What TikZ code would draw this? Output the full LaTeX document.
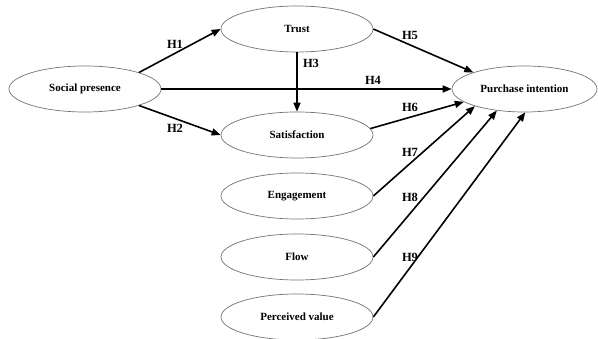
\documentclass[tikz,border=0pt]{standalone}
\usepackage{fontspec}
\setmainfont{Liberation Serif}
\usetikzlibrary{arrows.meta,shapes.geometric}
\begin{document}
\begin{tikzpicture}[x=1pt,y=-1pt,
  var/.style={draw=black!55, line width=0.7pt, ellipse, minimum width=152pt, minimum height=46pt, inner sep=0pt, font=\bfseries\fontsize{11}{13}\selectfont},
  rel/.style={line width=1.6pt, -{Triangle[length=9pt,width=7pt]}},
  lab/.style={font=\bfseries\fontsize{12.5}{14}\selectfont, inner sep=0pt}]
\useasboundingbox (0,0) rectangle (598,339);
\node[var] (sp) at (85,89) {Social presence};
\node[var] (tr) at (297,29) {Trust};
\node[var] (sa) at (297,135) {Satisfaction};
\node[var, minimum width=145pt] (pi) at (524.5,89) {Purchase intention};
\node[var] (en) at (297,196) {Engagement};
\node[var] (fl) at (297,257) {Flow};
\node[var] (pv) at (297,317) {Perceived value};
\draw[rel] (sp.17) -- (tr.west);
\draw[rel] (sp.-17) -- (sa.west);
\draw[rel] (tr.south) -- (sa.north);
\draw[rel] (sp.east) -- (pi.west);
\draw[rel] (tr.east) -- (pi.162);
\draw[rel] (sa.5) -- (pi.192);
\draw[rel] (en.east) -- (pi.199);
\draw[rel] (fl.east) -- (pi.218);
\draw[rel] (pv.east) -- (pi.272);
\node[lab] (h1) at (175,44) {H1};
\node[lab] (h2) at (175,128) {H2};
\node[lab] (h3) at (311,63) {H3};
\node[lab] (h4) at (373,80) {H4};
\node[lab] (h5) at (410,35) {H5};
\node[lab] (h6) at (410,107) {H6};
\node[lab] (h7) at (410,152) {H7};
\node[lab] (h8) at (410,197) {H8};
\node[lab] (h9) at (410,257) {H9};
\end{tikzpicture}
\end{document}
